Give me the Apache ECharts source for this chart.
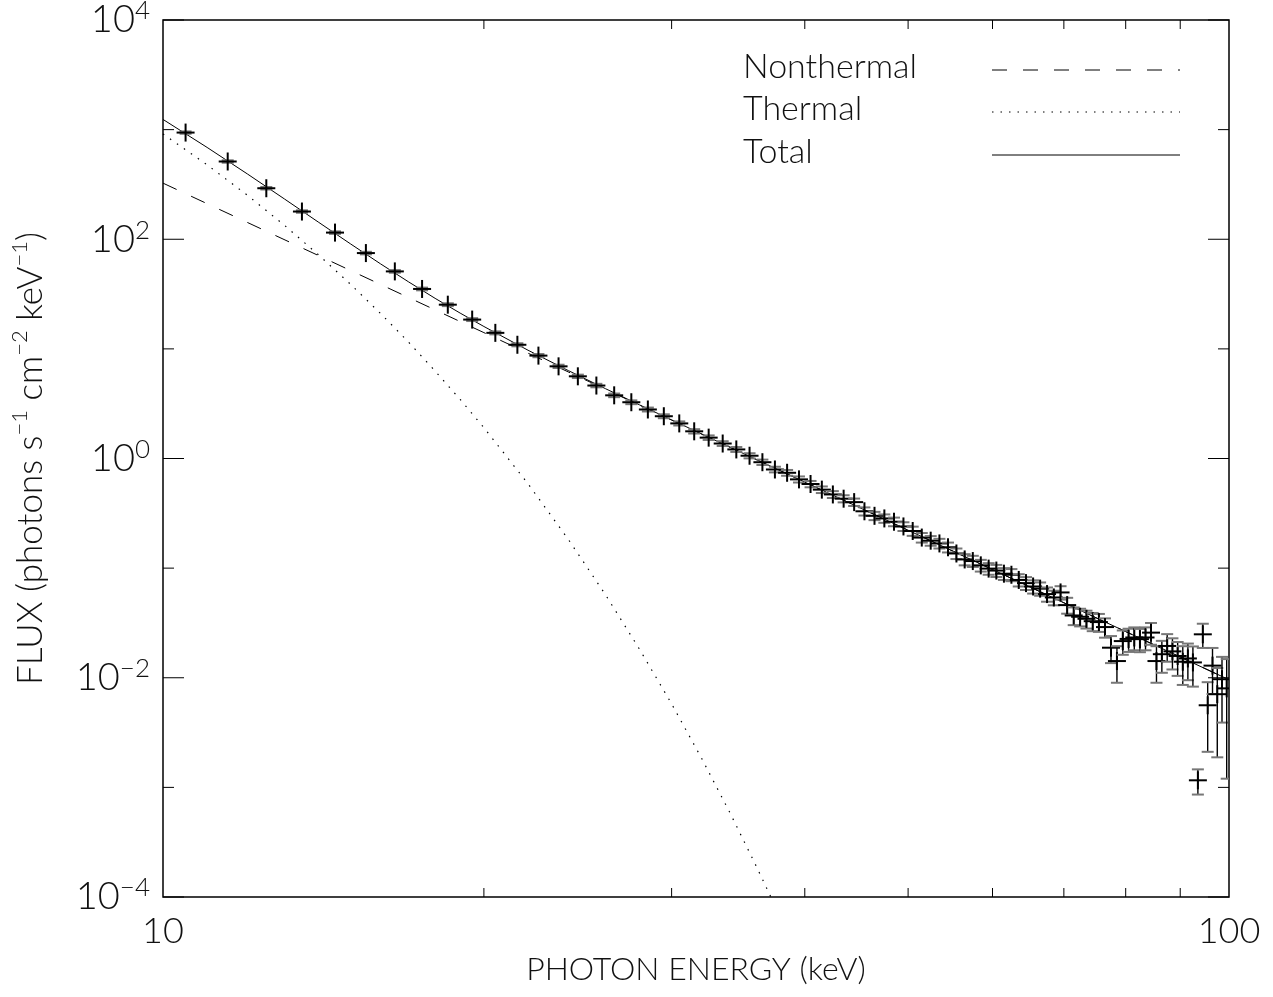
<!DOCTYPE html>
<html><head><meta charset="utf-8">
<script src="https://cdn.jsdelivr.net/npm/echarts@6/dist/echarts.min.js"></script>
<style>html,body{margin:0;padding:0;background:#fff}#chart{width:1273px;height:997px}</style>
</head><body><div id="chart"></div>
<script>
// ---- data ----
const energy = [10.5,11.5,12.5,13.5,14.5,15.5,16.5,17.5,18.5,19.5,
  20.5,21.5,22.5,23.5,24.5,25.5,26.5,27.5,28.5,29.5,
  30.5,31.5,32.5,33.5,34.5,35.5,36.5,37.5,38.5,39.5,
  40.5,41.5,42.5,43.5,44.5,45.5,46.5,47.5,48.5,49.5,
  50.5,51.5,52.5,53.5,54.5,55.5,56.5,57.5,58.5,59.5,
  60.5,61.5,62.5,63.5,64.5,65.5,66.5,67.5,68.5,69.5,
  70.5,71.5,72.5,73.5,74.5,75.5,76.5,77.5,78.5,79.5,
  80.5,81.5,82.5,83.5,84.5,85.5,86.5,87.5,88.5,89.5,
  90.5,91.5,92.5,93.5,94.5,95.5,96.5,97.5,98.5,99.5];
const flux = [940,512,292,179,115,74.8,50.9,35.2,25.3,18.5,
  14.0,10.9,8.68,6.93,5.62,4.63,3.77,3.26,2.80,2.43,
  2.09,1.77,1.55,1.37,1.21,1.06,0.925,0.794,0.741,0.645,
  0.585,0.52,0.47,0.43,0.40,0.33,0.30,0.284,0.265,0.24,
  0.218,0.19,0.178,0.168,0.155,0.136,0.12,0.116,0.106,0.099,
  0.095,0.089,0.087,0.078,0.073,0.068,0.065,0.058,0.054,0.060,
  0.046,0.037,0.036,0.0345,0.0328,0.0322,0.029,0.0188,0.0142,0.0216,
  0.0226,0.0233,0.0225,0.0233,0.0258,0.0142,0.0164,0.0195,0.0174,0.0158,
  0.0140,0.0150,0.0138,0.00116,0.0249,0.00561,0.0129,0.00708,0.0097,0.0080];
const fluxErr = [23,13,7.5,4.6,3.0,2.0,1.4,1.0,0.75,0.56,
  0.44,0.35,0.29,0.24,0.2,0.17,0.145,0.13,0.115,0.1,
  0.09,0.08,0.074,0.068,0.062,0.057,0.052,0.047,0.045,0.041,
  0.039,0.036,0.034,0.032,0.031,0.028,0.026,0.025,0.024,0.022,
  0.021,0.019,0.018,0.017,0.016,0.015,0.014,0.0135,0.013,0.012,
  0.012,0.011,0.011,0.010,0.0098,0.0094,0.009,0.0086,0.0082,0.0084,
  0.0076,0.0068,0.0066,0.0064,0.0062,0.006,0.0058,0.0052,0.0052,0.0054,
  0.0054,0.0055,0.0054,0.0055,0.0058,0.0052,0.0053,0.0055,0.0055,0.0054,
  0.0054,0.0055,0.0055,0.0003,0.0062,0.0035,0.0058,0.0052,0.0058,0.0068];

const nonthermalE = [10,12,15,20,25,30,40,50,60,70,80,90,100];
const nonthermalF = [325,142.3,51.8,14.07,5.12,2.242,0.609,0.2217,0.0970,0.0483,0.02637,0.01546,0.00959];

const thermalE = [10,11,12,13,14,15,16,17,18,19,20,22,24,26,28,30,32,34,36,37.2];
const thermalF = [914,477,252,134,71.7,38.7,21.0,11.5,6.28,3.46,1.91,0.588,0.183,0.0574,0.0181,0.00578,0.00185,0.000596,0.000193,0.0000985];

const totalE = [10,11,12,13,14,15,16,17,18,19,20,22,24,26,28,30,35,40,50,60,70,80,90,100];
const totalF = [1239,688,394,233,142.5,90.5,59.6,40.8,28.9,21.2,16.0,9.72,6.34,4.34,3.08,2.25,1.115,0.609,0.2217,0.0970,0.0483,0.02637,0.01546,0.00959];

const xMinorTicks = [20,30,40,50,60,70,80,90];
const yDecades = [1e-4,1e-3,1e-2,1e-1,1,1e1,1e2,1e3,1e4];
const legendNames = ['Nonthermal','Thermal','Total'];

const xTitle = 'PHOTON ENERGY (keV)';
const yTitle = 'FLUX (photons s{s|\u22121} cm{s|\u22122} keV{s|\u22121})';

// ---- styles ----
const FONT = 'Lato';
const FW = 300;
const TXT = '#111';
const DASH = [15, 16];
const DOT = [1.5, 7];

const zip = (a, b) => a.map((v, i) => [v, b[i]]);

const chart = echarts.init(document.getElementById('chart'), null, {renderer: 'canvas'});

function renderPoint(params, api) {
  const e = api.value(0), f = api.value(1), s = api.value(2);
  const c = api.coord([e, f]);
  const cs = params.coordSys;
  const yBot = cs.y + cs.height;
  const hi = api.coord([e, f + s])[1];
  const lo = (f - s > 0) ? api.coord([e, f - s])[1] : yBot;
  const H = 9, V = 9, CAP = 6;
  const blk = {stroke: '#000', lineWidth: 2};
  const bar = {stroke: '#000', lineWidth: 1.4};
  const cap = {stroke: '#777', lineWidth: 2};
  return {type: 'group', children: [
    {type: 'line', shape: {x1: c[0], y1: hi, x2: c[0], y2: lo}, style: bar},
    {type: 'line', shape: {x1: c[0] - CAP, y1: hi, x2: c[0] + CAP, y2: hi}, style: cap},
    {type: 'line', shape: {x1: c[0] - CAP, y1: lo, x2: c[0] + CAP, y2: lo}, style: cap},
    {type: 'line', shape: {x1: c[0] - H, y1: c[1], x2: c[0] + H, y2: c[1]}, style: blk},
    {type: 'line', shape: {x1: c[0], y1: c[1] - V, x2: c[0], y2: c[1] + V}, style: blk}
  ]};
}

function renderXTick(params, api) {
  const cs = params.coordSys;
  const x = api.coord([api.value(0), 1])[0];
  const st = {stroke: '#000', lineWidth: 1};
  return {type: 'group', children: [
    {type: 'line', shape: {x1: x, y1: cs.y + cs.height, x2: x, y2: cs.y + cs.height - 9}, style: st},
    {type: 'line', shape: {x1: x, y1: cs.y, x2: x, y2: cs.y + 9}, style: st}
  ]};
}

function renderYTick(params, api) {
  const cs = params.coordSys;
  const v = api.value(1);
  const y = api.coord([10, v])[1];
  const n = Math.round(Math.log10(v));
  const len = (n % 2 === 0) ? 21 : 11;
  const st = {stroke: '#000', lineWidth: 1};
  return {type: 'group', children: [
    {type: 'line', shape: {x1: cs.x, y1: y, x2: cs.x + len, y2: y}, style: st},
    {type: 'line', shape: {x1: cs.x + cs.width, y1: y, x2: cs.x + cs.width - len, y2: y}, style: st}
  ]};
}

const legendY = [70, 112, 155];
const legendStyles = [DASH, DOT, null];
const graphics = [];
legendNames.forEach((nm, i) => {
  graphics.push({type: 'text', left: 743, top: legendY[i] - 20,
    style: {text: nm, fontFamily: FONT, fontWeight: FW, fontSize: 34, fill: TXT}});
  graphics.push({type: 'line', shape: {x1: 992, y1: legendY[i], x2: 1180, y2: legendY[i]},
    style: {stroke: '#000', lineWidth: 1, lineDash: legendStyles[i]}});
});

const option = {
  backgroundColor: '#fff',
  animation: false,
  grid: {left: 163, right: 44, top: 20, bottom: 100, containLabel: false, outerBoundsMode: 'none',
    show: true, borderColor: '#000', borderWidth: 1.5, backgroundColor: 'transparent'},
  xAxis: {
    type: 'log', logBase: 10, min: 10, max: 100,
    axisLine: {show: false}, axisTick: {show: false}, splitLine: {show: false}, minorTick: {show: false},
    axisLabel: {fontFamily: FONT, fontWeight: FW, fontSize: 36, color: TXT, margin: 16,
      formatter: v => String(Math.round(v))},
    name: xTitle, nameLocation: 'middle', nameGap: 56,
    nameTextStyle: {fontFamily: FONT, fontWeight: FW, fontSize: 32, color: TXT}
  },
  yAxis: {
    type: 'log', logBase: 10, min: 1e-4, max: 1e4, splitNumber: 4,
    axisLine: {show: false}, axisTick: {show: false}, splitLine: {show: false}, minorTick: {show: false},
    axisLabel: {margin: 13,
      formatter: v => {
        const n = Math.round(Math.log10(v));
        if (n % 2 !== 0) return '';
        return '{b|10}{s|' + (n < 0 ? '\u2212' + (-n) : String(n)) + '}';
      },
      rich: {
        b: {fontFamily: FONT, fontWeight: FW, fontSize: 38, color: TXT, lineHeight: 44},
        s: {fontFamily: FONT, fontWeight: FW, fontSize: 26, color: TXT, verticalAlign: 'top', lineHeight: 26}
      }
    },
    name: yTitle, nameLocation: 'middle', nameGap: 110, nameRotate: 90,
    nameTextStyle: {fontFamily: FONT, fontWeight: FW, fontSize: 35, color: TXT, lineHeight: 44,
      rich: {s: {fontFamily: FONT, fontWeight: FW, fontSize: 22, color: TXT, verticalAlign: 'top', lineHeight: 22}}}
  },
  graphic: graphics,
  series: [
    {name: 'Nonthermal', type: 'line', data: zip(nonthermalE, nonthermalF), symbol: 'none',
      lineStyle: {color: '#000', width: 1, type: DASH}, z: 3, silent: true},
    {name: 'Thermal', type: 'line', data: zip(thermalE, thermalF), symbol: 'none',
      lineStyle: {color: '#000', width: 1.2, type: DOT}, z: 3, silent: true},
    {name: 'Total', type: 'line', data: zip(totalE, totalF), symbol: 'none',
      lineStyle: {color: '#000', width: 1}, z: 3, silent: true},
    {name: 'Data', type: 'custom', renderItem: renderPoint, clip: true, silent: true, z: 4,
      data: energy.map((e, i) => [e, flux[i], fluxErr[i]])},
    {name: 'xticks', type: 'custom', renderItem: renderXTick, silent: true, z: 5,
      data: xMinorTicks.map(v => [v, 1])},
    {name: 'yticks', type: 'custom', renderItem: renderYTick, silent: true, z: 5,
      data: yDecades.map(v => [10, v])}
  ]
};
chart.setOption(option);
</script>
</body></html>
